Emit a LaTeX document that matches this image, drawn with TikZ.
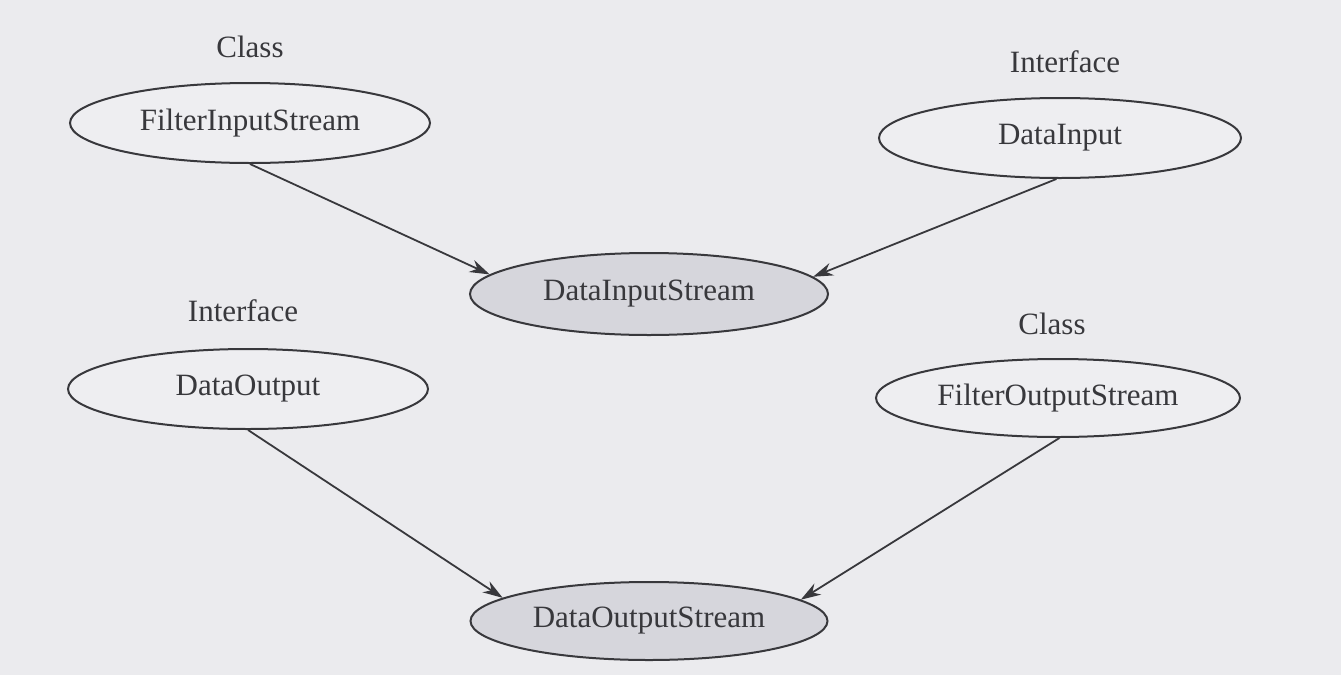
\documentclass[tikz,border=0pt]{standalone}
\usepackage{fontspec}
\setmainfont{Liberation Serif}
\usetikzlibrary{shapes.geometric,arrows.meta}
\definecolor{bgc}{HTML}{EBEBEE}
\definecolor{ink}{HTML}{38383C}
\definecolor{shade}{HTML}{D6D6DC}
\definecolor{lightfill}{HTML}{EEEEF1}
\tikzset{
  cls/.style={ellipse, draw=ink, line width=2pt, fill=lightfill, inner sep=0pt,
    minimum width=360pt, minimum height=80pt, text=ink,
    font=\fontsize{31}{36}\selectfont},
  derived/.style={cls, fill=shade},
  kind/.style={text=ink, font=\fontsize{31}{36}\selectfont},
  link/.style={draw=ink, line width=1.8pt, -{Stealth[length=20pt,width=13pt]}}
}
\begin{document}
\begin{tikzpicture}[x=1pt,y=-1pt]
\fill[bgc] (0,0) rectangle (1341,675);
\node[cls] (fis) at (250,123) {FilterInputStream};
\node[kind] (k1) at (250,47) {Class};
\node[cls, minimum width=362pt] (di) at (1060,138) {DataInput};
\node[kind] (k2) at (1065,62) {Interface};
\node[derived, minimum width=358pt, minimum height=82pt] (dis) at (649,294) {DataInputStream};
\node[cls] (do) at (248,389) {DataOutput};
\node[kind] (k3) at (243,311) {Interface};
\node[cls, minimum width=364pt, minimum height=78pt] (fos) at (1058,398) {FilterOutputStream};
\node[kind] (k4) at (1052,324) {Class};
\node[derived, minimum width=357pt, minimum height=78pt] (dos) at (649,621) {DataOutputStream};
\draw[link] (fis.south) -- (dis.173);
\draw[link] (di.265) -- (dis.6);
\draw[link] (do.south) -- (dos.171);
\draw[link] (fos.272) -- (dos.8);
\end{tikzpicture}
\end{document}
